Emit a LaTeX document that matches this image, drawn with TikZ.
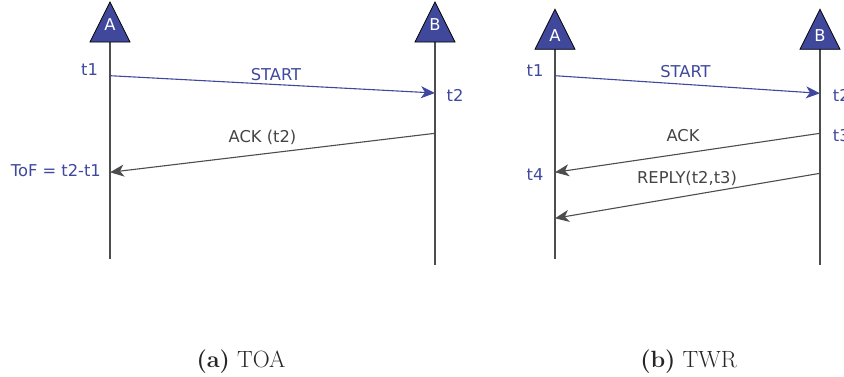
\documentclass[tikz,border=0pt]{standalone}
\usepackage{fontspec}
\newfontfamily\dejavu{DejaVu Sans}
\usetikzlibrary{arrows.meta}
\definecolor{tblue}{RGB}{63,72,158}
\definecolor{tfill}{RGB}{64,72,155}
\definecolor{tgray}{RGB}{77,77,77}
\definecolor{ttext}{RGB}{68,68,68}
\tikzset{
  lbl/.style={font=\dejavu\fontsize{16.3}{19}\selectfont, inner sep=0pt, anchor=base},
  bluelbl/.style={lbl, text=tblue},
  graylbl/.style={lbl, text=ttext},
  anchortri/.style={fill=tfill, draw=black, line width=0.8pt, line join=miter},
  timeline/.style={draw=tgray, line width=1.3pt},
  bluemsg/.style={draw=tblue, line width=1.1pt, -{Stealth[length=14pt,width=12pt,inset=4pt]}},
  graymsg/.style={draw=tgray, line width=1.1pt, -{Stealth[length=14pt,width=12pt,inset=4pt]}},
  captext/.style={font=\fontsize{23.5}{28}\selectfont, text=black!85, inner sep=0pt, anchor=base}
}
\begin{document}
\begin{tikzpicture}[x=1pt,y=-1pt]
\useasboundingbox (0,0) rectangle (844,376);
% ---------- (a) TOA ----------
\coordinate (aAtop) at (110,42);
\coordinate (aAbot) at (110,259);
\coordinate (aBtop) at (435,42);
\coordinate (aBbot) at (435,265);
\draw[timeline] (aAtop) -- (aAbot);
\draw[timeline] (aBtop) -- (aBbot);
\draw[anchortri] (110,2) -- (130,42) -- (90,42) -- cycle;
\draw[anchortri] (435,2) -- (455,42) -- (415,42) -- cycle;
\node[lbl, text=white] (aA) at (110,30) {A};
\node[lbl, text=white] (aB) at (435,30) {B};
\coordinate (aS1) at (110,75.7);
\coordinate (aS2) at (435,93);
\coordinate (aK1) at (435,133.3);
\coordinate (aK2) at (110,172.3);
\draw[bluemsg] (aS1) -- (aS2);
\draw[graymsg] (aK1) -- (aK2);
\node[bluelbl] (at1) at (89.5,75) {t1};
\node[bluelbl] (astart) at (276,80) {START};
\node[bluelbl] (at2) at (455,101) {t2};
\node[graylbl] (aack) at (262.5,142.5) {ACK (t2)};
\node[bluelbl, anchor=base east] (atof) at (101,176.5) {ToF = t2-t1};
\node[captext] (capa) at (241,367) {\textbf{(a)} TOA};
% ---------- (b) TWR ----------
\coordinate (bAtop) at (555,49.3);
\coordinate (bAbot) at (555,259);
\coordinate (bBtop) at (820,49.3);
\coordinate (bBbot) at (820,265);
\draw[timeline] (bAtop) -- (bAbot);
\draw[timeline] (bBtop) -- (bBbot);
\draw[anchortri] (555,9.3) -- (575,49.3) -- (535,49.3) -- cycle;
\draw[anchortri] (820,9.3) -- (840,49.3) -- (800,49.3) -- cycle;
\node[lbl, text=white] (bA) at (555,41) {A};
\node[lbl, text=white] (bB) at (820,41) {B};
\coordinate (bS1) at (555,75.7);
\coordinate (bS2) at (820,93.3);
\coordinate (bK1) at (820,133.3);
\coordinate (bK2) at (555,172.3);
\coordinate (bR1) at (820,173.3);
\coordinate (bR2) at (555,218.3);
\draw[bluemsg] (bS1) -- (bS2);
\draw[graymsg] (bK1) -- (bK2);
\draw[graymsg] (bR1) -- (bR2);
\node[bluelbl] (bt1) at (535,76) {t1};
\node[bluelbl] (bstart) at (685.5,77) {START};
\node[bluelbl, anchor=base west] (bt2) at (832.7,101) {t2};
\node[bluelbl, anchor=base west] (bt3) at (832.7,141.5) {t3};
\node[graylbl] (back) at (683,141.7) {ACK};
\node[bluelbl] (bt4) at (535,180) {t4};
\node[graylbl] (breply) at (687,183.5) {REPLY(t2,t3)};
\node[captext] (capb) at (688.5,367) {\textbf{(b)} TWR};
\end{tikzpicture}
\end{document}
